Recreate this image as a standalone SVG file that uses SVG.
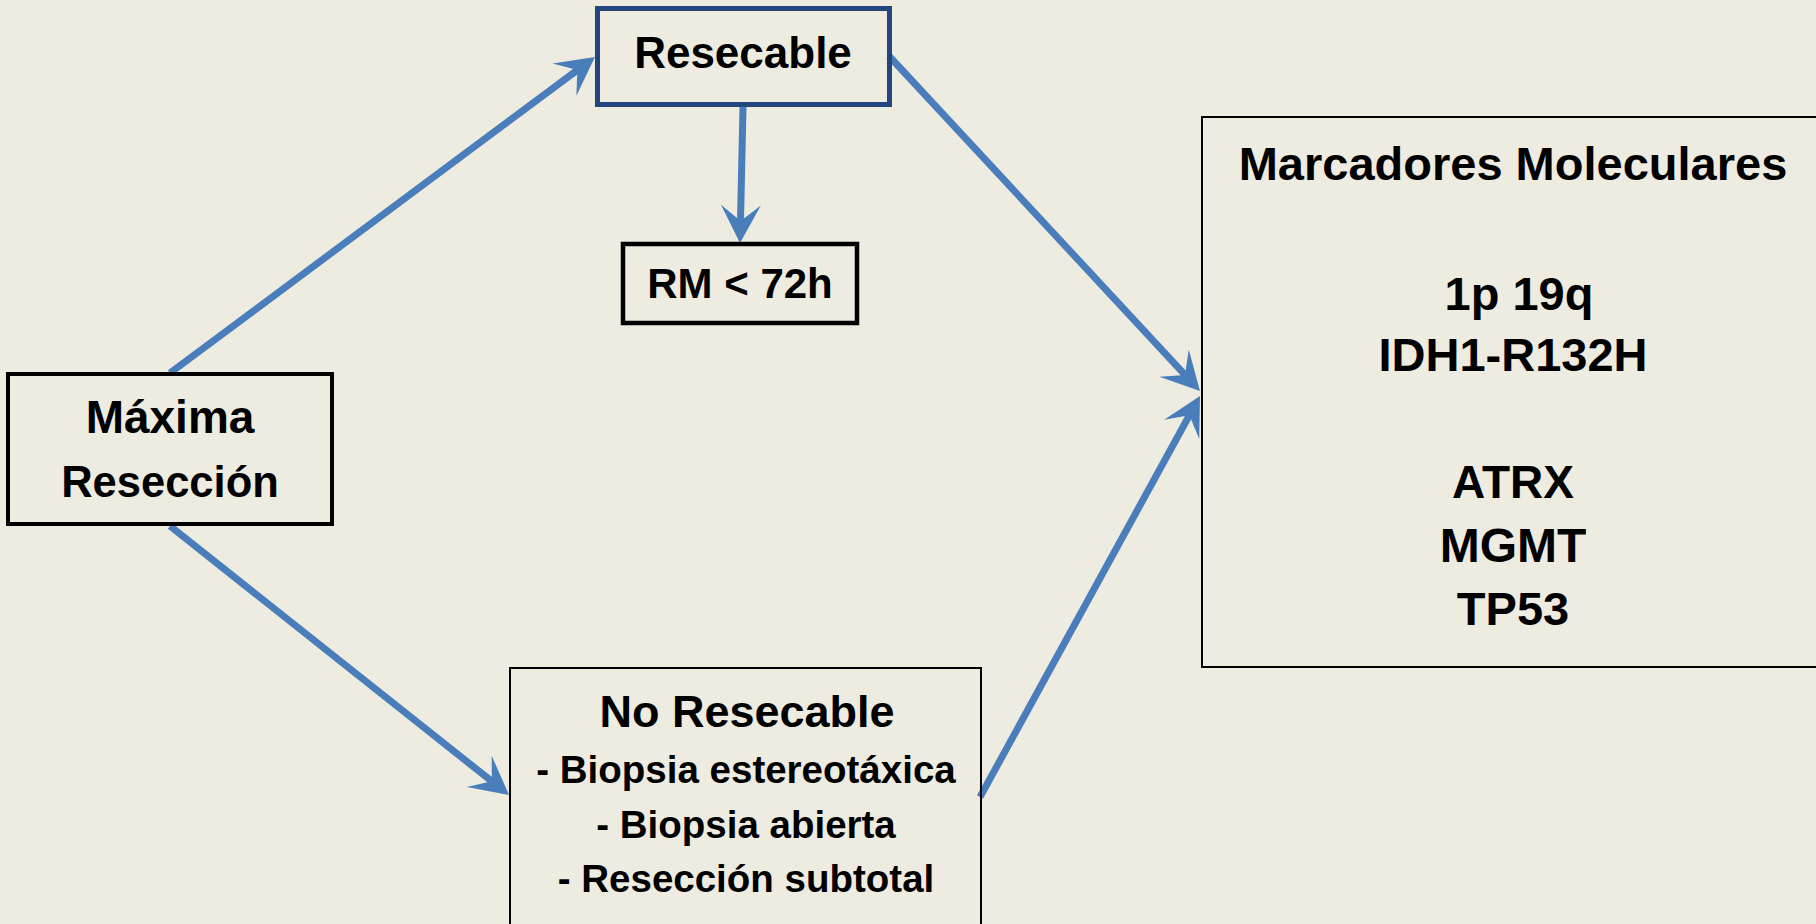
<svg xmlns="http://www.w3.org/2000/svg" width="1816" height="924" viewBox="0 0 1816 924">
<style>
.bg{fill:#eeece1}
.box{fill:none;stroke:#000}
.t{font-family:"Liberation Sans",Arial,sans-serif;font-weight:bold;fill:#000;text-anchor:middle}
.conn{fill:none;stroke:#4a7ebb;stroke-width:7;stroke-linecap:butt}
</style>
<defs>
<marker id="ah" markerUnits="userSpaceOnUse" viewBox="0 -21 39 42" refX="16" refY="0" markerWidth="39" markerHeight="42" orient="auto">
<path d="M0,-20 L38,0 L0,20 L16,0 Z" fill="#4a7ebb"/>
</marker>
</defs>
<rect class="bg" x="0" y="0" width="1816" height="924"/>
<g id="connectors">
<line class="conn" x1="170" y1="373" x2="577.3" y2="70.1" marker-end="url(#ah)"/>
<line class="conn" x1="170" y1="526" x2="491.8" y2="781.3" marker-end="url(#ah)"/>
<line class="conn" x1="743" y1="107" x2="740.5" y2="221" marker-end="url(#ah)"/>
<line class="conn" x1="889" y1="56" x2="1185" y2="374.9" marker-end="url(#ah)"/>
<line class="conn" x1="980" y1="797" x2="1189.4" y2="415.3" marker-end="url(#ah)"/>
</g>
<g id="resecable">
<rect class="box" x="597.5" y="8.5" width="292" height="96" style="stroke:#23477c;stroke-width:5"/>
<text class="t" x="743" y="68" font-size="44">Resecable</text>
</g>
<g id="rm72">
<rect class="box" x="623" y="244" width="234" height="79" style="stroke-width:4.5"/>
<text class="t" x="740" y="298" font-size="42">RM &lt; 72h</text>
</g>
<g id="maxima">
<rect class="box" x="8" y="374" width="324" height="150" style="stroke-width:4"/>
<text class="t" x="170" y="433" font-size="46">Máxima</text>
<text class="t" x="170" y="497" font-size="43.5">Resección</text>
</g>
<g id="noresecable">
<rect class="box" x="510" y="668" width="471" height="300" style="stroke-width:2"/>
<text class="t" x="747" y="727" font-size="45">No Resecable</text>
<text class="t" x="746" y="783" font-size="38.5">- Biopsia estereotáxica</text>
<text class="t" x="746" y="838" font-size="38.5">- Biopsia abierta</text>
<text class="t" x="746" y="892" font-size="38.5">- Resección subtotal</text>
</g>
<g id="marcadores">
<rect class="box" x="1202" y="117" width="700" height="550" style="stroke-width:2"/>
<text class="t" x="1513" y="180" font-size="47">Marcadores Moleculares</text>
<text class="t" x="1519" y="310" font-size="47">1p 19q</text>
<text class="t" x="1513" y="371" font-size="47">IDH1-R132H</text>
<text class="t" x="1513" y="498" font-size="46">ATRX</text>
<text class="t" x="1513" y="562" font-size="48">MGMT</text>
<text class="t" x="1513" y="625" font-size="47">TP53</text>
</g>
</svg>
